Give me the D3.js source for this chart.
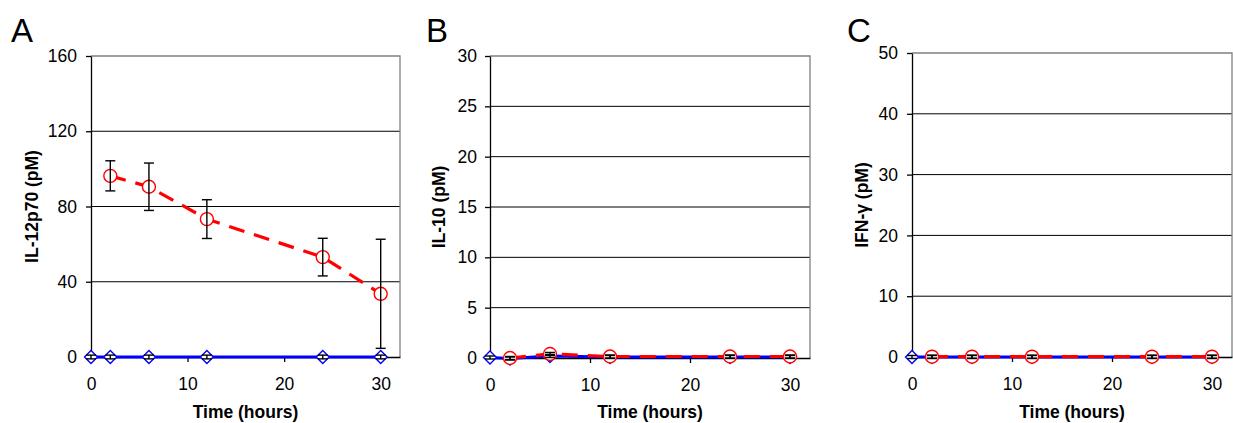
<!DOCTYPE html>
<html>
<head>
<meta charset="utf-8">
<script src="https://cdn.jsdelivr.net/npm/d3@7"></script>
<style>
  body { margin: 0; background: #fff; }
  svg { display: block; }
</style>
</head>
<body>
<div id="chart"></div>
<script>
const WIDTH = 1233;
const HEIGHT = 423;

// time points (hours)
const TIME_BLUE = [0, 2, 6, 12, 24, 30];
const TIME_RED = [2, 6, 12, 24, 30];
const X_TICKS = [0, 10, 20, 30];

// A: IL-12p70
const IL12_RED = [96.3, 90.5, 73.3, 53.1, 33.6];
const IL12_RED_ERR = [8, 12.6, 10.3, 10, 29];
const IL12_BLUE = [0, 0, 0, 0, 0, 0];
const IL12_BLUE_ERR = [1, 1, 1, 1, 1, 1];
const IL12_TICKS = [0, 40, 80, 120, 160];

// B: IL-10
const IL10_RED = [0.0, 0.4, 0.15, 0.15, 0.15];
const IL10_RED_ERR = [0.15, 0.15, 0.15, 0.15, 0.15];
const IL10_BLUE = [0.05, -0.05, 0.2, 0.1, 0.1, 0.1];
const IL10_BLUE_ERR = [0.15, 0.15, 0.15, 0.15, 0.15, 0.15];
const IL10_TICKS = [0, 5, 10, 15, 20, 25, 30];

// C: IFN-gamma
const IFN_RED = [0.05, 0.05, 0.05, 0.05, 0.05];
const IFN_RED_ERR = [0.25, 0.25, 0.25, 0.25, 0.25];
const IFN_BLUE = [0, 0, 0, 0, 0, 0];
const IFN_BLUE_ERR = [0.25, 0.25, 0.25, 0.25, 0.25, 0.25];
const IFN_TICKS = [0, 10, 20, 30, 40, 50];

const FONT = "Arial, 'Liberation Sans', sans-serif";

const svg = d3.select("#chart").append("svg")
    .attr("width", WIDTH)
    .attr("height", HEIGHT);

function drawPanel(p) {
    const x = d3.scaleLinear().domain([0, 32]).range([p.left, p.right]);
    const y = d3.scaleLinear().domain([0, p.ticks[p.ticks.length - 1]]).range([p.bottom, p.top]);
    const g = svg.append("g");

    // gridlines
    g.selectAll(".grid").data(p.ticks.slice(1, -1)).join("line")
        .attr("x1", p.left).attr("x2", p.right)
        .attr("y1", d => y(d)).attr("y2", d => y(d))
        .attr("stroke", "#000").attr("stroke-width", 1);

    // top + right border (gray)
    g.append("path")
        .attr("d", `M${p.left},${p.top}H${p.right}V${p.bottom}`)
        .attr("fill", "none").attr("stroke", "#808080").attr("stroke-width", 1.3);

    // axes
    const yAxis = g.append("g")
        .attr("transform", `translate(${p.left},0)`)
        .call(d3.axisLeft(y).tickValues(p.ticks).tickSize(5).tickSizeOuter(0).tickPadding(p.yPad));
    const xAxis = g.append("g")
        .attr("transform", `translate(0,${p.bottom})`)
        .call(d3.axisBottom(x).tickValues(X_TICKS).tickSize(5).tickSizeOuter(0).tickPadding(16));
    [yAxis, xAxis].forEach(a => {
        a.selectAll("path, line").attr("stroke", "#000").attr("stroke-width", 1.3);
        a.selectAll("text").attr("fill", "#000")
            .style("font-family", FONT).style("font-size", "17.5px");
    });

    // series lines
    const line = d3.line().x(d => x(d[0])).y(d => y(d[1]));
    const blue = TIME_BLUE.map((t, i) => [t, p.blue[i], p.blueErr[i]]);
    const red = TIME_RED.map((t, i) => [t, p.red[i], p.redErr[i]]);

    g.append("path").datum(blue).attr("d", line)
        .attr("fill", "none").attr("stroke", "#0000ff").attr("stroke-width", 3);
    g.append("path").datum(red).attr("d", line)
        .attr("fill", "none").attr("stroke", "#ff0000").attr("stroke-width", 3.2)
        .attr("stroke-dasharray", "16,10");

    // markers
    g.selectAll(".dia").data(blue).join("path")
        .attr("d", d => {
            const cx = x(d[0]), cy = y(d[1]), s = 6.5;
            return `M${cx},${cy - s}L${cx + s},${cy}L${cx},${cy + s}L${cx - s},${cy}Z`;
        })
        .attr("fill", "#fff").attr("stroke", "#0000ff").attr("stroke-width", 1.4);
    g.selectAll(".circ").data(red).join("circle")
        .attr("cx", d => x(d[0])).attr("cy", d => y(d[1])).attr("r", 6.5)
        .attr("fill", "#fff").attr("stroke", "#ff0000").attr("stroke-width", 1.4);

    // error bars
    const errs = blue.concat(red);
    const eb = g.selectAll(".err").data(errs).join("g").attr("stroke", "#000").attr("stroke-width", 1.4);
    eb.append("line")
        .attr("x1", d => x(d[0])).attr("x2", d => x(d[0]))
        .attr("y1", d => y(d[1] + d[2])).attr("y2", d => y(d[1] - d[2]));
    eb.append("line")
        .attr("x1", d => x(d[0]) - 5).attr("x2", d => x(d[0]) + 5)
        .attr("y1", d => y(d[1] + d[2])).attr("y2", d => y(d[1] + d[2]));
    eb.append("line")
        .attr("x1", d => x(d[0]) - 5).attr("x2", d => x(d[0]) + 5)
        .attr("y1", d => y(d[1] - d[2])).attr("y2", d => y(d[1] - d[2]));

    // labels
    svg.append("text")
        .attr("x", p.letterX).attr("y", 42)
        .style("font-family", FONT).style("font-size", "33px")
        .text(p.letter);
    svg.append("text")
        .attr("transform", `translate(${p.yLabelX},${(p.top + p.bottom) / 2}) rotate(-90)`)
        .attr("text-anchor", "middle").attr("dy", "0.35em")
        .style("font-family", FONT).style("font-size", "17.5px").style("font-weight", "bold")
        .text(p.yLabel);
    svg.append("text")
        .attr("x", (p.left + p.right) / 2).attr("y", p.xLabelY)
        .attr("text-anchor", "middle")
        .style("font-family", FONT).style("font-size", "17.5px").style("font-weight", "bold")
        .text("Time (hours)");
}

drawPanel({
    letter: "A", letterX: 11, left: 91, right: 400, top: 56, bottom: 357,
    ticks: IL12_TICKS, yPad: 9, yLabelX: 32, xLabelY: 418, yLabel: "IL-12p70 (pM)",
    red: IL12_RED, redErr: IL12_RED_ERR, blue: IL12_BLUE, blueErr: IL12_BLUE_ERR
});
drawPanel({
    letter: "B", letterX: 426, left: 490, right: 810, top: 56, bottom: 358,
    ticks: IL10_TICKS, yPad: 8, yLabelX: 439, xLabelY: 418, yLabel: "IL-10 (pM)",
    red: IL10_RED, redErr: IL10_RED_ERR, blue: IL10_BLUE, blueErr: IL10_BLUE_ERR
});
drawPanel({
    letter: "C", letterX: 847, left: 912, right: 1232, top: 53, bottom: 357,
    ticks: IFN_TICKS, yPad: 9, yLabelX: 862, xLabelY: 418, yLabel: "IFN-\u03b3 (pM)",
    red: IFN_RED, redErr: IFN_RED_ERR, blue: IFN_BLUE, blueErr: IFN_BLUE_ERR
});
</script>
</body>
</html>
